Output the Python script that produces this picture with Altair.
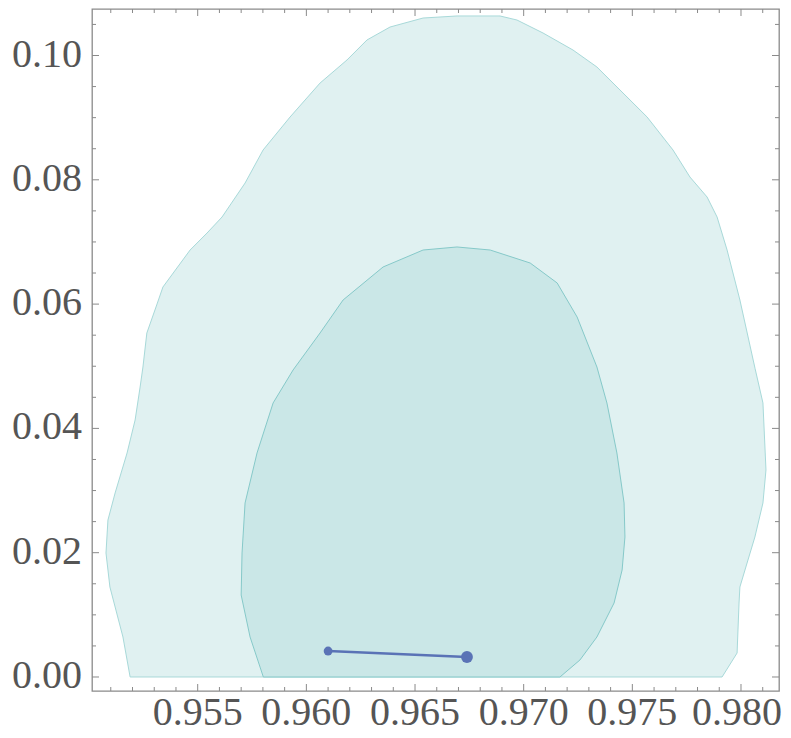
import altair as alt
import pandas as pd

# ---- data ----
outer_x = [0.95189, 0.95156, 0.95096, 0.95078, 0.95087, 0.95120, 0.95175, 0.95212,
           0.95235, 0.95248, 0.95266, 0.95313, 0.95340, 0.95465, 0.95543, 0.95612,
           0.95718, 0.95801, 0.95925, 0.96063, 0.96187, 0.96279, 0.96385, 0.96537,
           0.96693, 0.96891, 0.96969, 0.97089, 0.97227, 0.97337, 0.97457, 0.97568,
           0.97687, 0.97765, 0.97844, 0.97890, 0.97936, 0.97995, 0.98065, 0.98101,
           0.98115, 0.98101, 0.98064, 0.98028, 0.97995, 0.97991, 0.97982, 0.97913]
outer_y = [0.00000, 0.00644, 0.01448, 0.01995, 0.02526, 0.02961, 0.03604, 0.04135,
           0.04666, 0.04988, 0.05535, 0.06002, 0.06275, 0.06870, 0.07144, 0.07401,
           0.07948, 0.08480, 0.09010, 0.09557, 0.09928, 0.10250, 0.10458, 0.10603,
           0.10636, 0.10636, 0.10571, 0.10362, 0.10088, 0.09815, 0.09397, 0.09010,
           0.08480, 0.08045, 0.07723, 0.07401, 0.06870, 0.06066, 0.04960, 0.04409,
           0.03331, 0.02800, 0.02253, 0.01834, 0.01448, 0.01191, 0.00386, 0.00000]

inner_x = [0.95802, 0.95741, 0.95700, 0.95704, 0.95718, 0.95773, 0.95847, 0.95939,
           0.96063, 0.96169, 0.96353, 0.96537, 0.96693, 0.96846, 0.97030, 0.97154,
           0.97246, 0.97337, 0.97383, 0.97429, 0.97462, 0.97466, 0.97453, 0.97416,
           0.97337, 0.97259, 0.97167]
inner_y = [0.00000, 0.00644, 0.01319, 0.01995, 0.02800, 0.03604, 0.04409, 0.04940,
           0.05535, 0.06066, 0.06597, 0.06870, 0.06919, 0.06870, 0.06661, 0.06340,
           0.05792, 0.04988, 0.04409, 0.03604, 0.02800, 0.02253, 0.01722, 0.01191,
           0.00644, 0.00274, 0.00000]

seg_x = [0.96100, 0.96739]
seg_y = [0.00418, 0.00322]

x_major = [0.955, 0.960, 0.965, 0.970, 0.975, 0.980]
x_labels = ["0.955", "0.960", "0.965", "0.970", "0.975", "0.980"]
x_minor = [0.951, 0.952, 0.953, 0.954, 0.956, 0.957, 0.958, 0.959,
           0.961, 0.962, 0.963, 0.964, 0.966, 0.967, 0.968, 0.969,
           0.971, 0.972, 0.973, 0.974, 0.976, 0.977, 0.978, 0.979, 0.981]
y_major = [0.00, 0.02, 0.04, 0.06, 0.08, 0.10]
y_labels = ["0.00", "0.02", "0.04", "0.06", "0.08", "0.10"]
y_minor = [0.005, 0.010, 0.015, 0.025, 0.030, 0.035, 0.045, 0.050, 0.055,
           0.065, 0.070, 0.075, 0.085, 0.090, 0.095, 0.105]

# plot ranges
X_LO, X_HI = 0.950136, 0.981749
Y_LO, Y_HI = -0.002253, 0.107482

# ---- tables ----
def closed(xs, ys):
    return pd.DataFrame({"x": xs + [xs[0]], "y": ys + [ys[0]],
                         "i": list(range(len(xs) + 1))})

df_outer = closed(outer_x, outer_y)
df_inner = closed(inner_x, inner_y)
df_seg = pd.DataFrame({"x": seg_x, "y": seg_y, "i": [0, 1]})
df_xlab = pd.DataFrame({"v": x_major, "t": x_labels})
df_ylab = pd.DataFrame({"v": y_major, "t": y_labels})

W, H = 687, 682
PX = (X_HI - X_LO) / W   # data units per pixel
PY = (Y_HI - Y_LO) / H


def tick_rows(side, values, length):
    rows = []
    for k, v in enumerate(values):
        if side == "bottom":
            pts = [(v, Y_LO), (v, Y_LO + length * PY)]
        elif side == "top":
            pts = [(v, Y_HI), (v, Y_HI - length * PY)]
        elif side == "left":
            pts = [(X_LO, v), (X_LO + length * PX, v)]
        else:
            pts = [(X_HI, v), (X_HI - length * PX, v)]
        for j, (a, b) in enumerate(pts):
            rows.append({"x": a, "y": b, "g": f"{side}{length}-{k}", "o": j})
    return rows


tick_list = []
for side in ("bottom", "top"):
    tick_list += tick_rows(side, x_major, 7) + tick_rows(side, x_minor, 4)
for side in ("left", "right"):
    tick_list += tick_rows(side, y_major, 7) + tick_rows(side, y_minor, 4)
df_ticks = pd.DataFrame(tick_list)

xs = alt.Scale(domain=[X_LO, X_HI], nice=False, zero=False)
ys = alt.Scale(domain=[Y_LO, Y_HI], nice=False, zero=False)
X = lambda f: alt.X(f, scale=xs, axis=None)
Y = lambda f: alt.Y(f, scale=ys, axis=None)

GRAY = "#8a8a8a"
BLUE = "#5a73b6"

outer = alt.Chart(df_outer).mark_line(
    fill="#e0f1f1", stroke="#a8d9d9", strokeWidth=1
).encode(x=X("x:Q"), y=Y("y:Q"), order="i:Q")

inner = alt.Chart(df_inner).mark_line(
    fill="#cae7e7", stroke="#86c9c9", strokeWidth=1
).encode(x=X("x:Q"), y=Y("y:Q"), order="i:Q")

seg = alt.Chart(df_seg).mark_line(color=BLUE, strokeWidth=2.6).encode(
    x=X("x:Q"), y=Y("y:Q"), order="i:Q")

dot_small = alt.Chart(df_seg).transform_filter("datum.i == 0").mark_circle(
    color=BLUE, opacity=1, size=78).encode(x=X("x:Q"), y=Y("y:Q"))

dot_big = alt.Chart(df_seg).transform_filter("datum.i == 1").mark_circle(
    color=BLUE, opacity=1, size=140).encode(x=X("x:Q"), y=Y("y:Q"))

# inward tick marks on all four sides of the frame
ticks = alt.Chart(df_ticks).mark_line(
    color=GRAY, strokeWidth=1, strokeCap="butt"
).encode(x=X("x:Q"), y=Y("y:Q"), detail="g:N", order="o:Q")

# tick labels (serif, grey), placed through the scales
txt = dict(font="Liberation Serif", fontSize=40, color="#555555",
           baseline="alphabetic")
xlab_main = alt.Chart(df_xlab).transform_filter("datum.v < 0.9795").mark_text(
    align="center", **txt).encode(x=X("v:Q"), y=alt.value(H + 34), text="t:N")
xlab_last = alt.Chart(df_xlab).transform_filter("datum.v >= 0.9795").mark_text(
    align="right", dx=41, **txt).encode(x=X("v:Q"), y=alt.value(H + 34), text="t:N")
ylab = alt.Chart(df_ylab).mark_text(align="right", dy=11, **txt).encode(
    x=alt.value(-10), y=Y("v:Q"), text="t:N")

chart = alt.layer(outer, inner, seg, dot_small, dot_big, ticks,
                  xlab_main, xlab_last, ylab).properties(
    width=W, height=H, autosize="none",
    padding={"left": 84, "top": 1, "right": 4, "bottom": 46},
    background="white",
).configure_view(stroke=GRAY, strokeWidth=1.3)

chart.save("out.html", embed_options={"renderer": "svg", "actions": False})
